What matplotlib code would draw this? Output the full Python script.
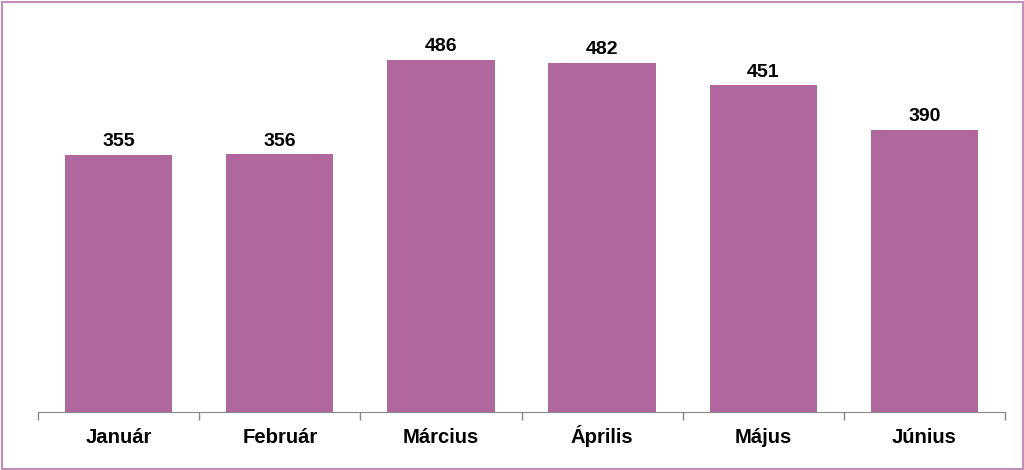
import matplotlib.pyplot as plt
from matplotlib.patches import Rectangle
from matplotlib.transforms import blended_transform_factory, offset_copy

honapok = ['Január', 'Február', 'Március', 'Április', 'Május', 'Június']
ertekek = [355, 356, 486, 482, 451, 390]

plt.rcParams['font.family'] = ['Liberation Sans', 'DejaVu Sans']

W, H = 1024, 470
fig = plt.figure(figsize=(W / 100, H / 100), dpi=100)
# axes in pixel terms: x 38..1005, y baseline 412, top 50
ax = fig.add_axes([38 / W, (H - 412) / H, (1005 - 38) / W, (412 - 50) / H])

x = list(range(len(honapok)))
bars = ax.bar(x, ertekek, width=0.665, color='#B0679E')
for b, v in zip(bars, ertekek):
    ax.text(b.get_x() + b.get_width() / 2, v + 12, str(v), ha='center', va='baseline',
            fontsize=14, fontweight='bold')

ax.set_xlim(-0.5, len(honapok) - 0.5)
ax.set_ylim(0, 500)
for s in ['top', 'right', 'left']:
    ax.spines[s].set_visible(False)
ax.spines['bottom'].set_color('#868686')
ax.set_yticks([])
ax.set_xticks([i - 0.5 for i in range(len(honapok) + 1)])
ax.set_xticklabels([])
ax.tick_params(axis='x', length=6, color='#868686', width=1)

# category labels on a common baseline
tr = offset_copy(blended_transform_factory(ax.transData, ax.transAxes),
                 fig=fig, y=-31, units='dots')
for i, h in enumerate(honapok):
    ax.text(i, 0, h, transform=tr, ha='center', va='baseline',
            fontsize=14.6, fontweight='bold')

fig.patches.append(Rectangle((1.5 / W, 1.5 / H), 1 - 3 / W, 1 - 3 / H,
                             transform=fig.transFigure, fill=False,
                             edgecolor='#C08FB6', linewidth=1.5))

fig.savefig('out.png', dpi=100)
